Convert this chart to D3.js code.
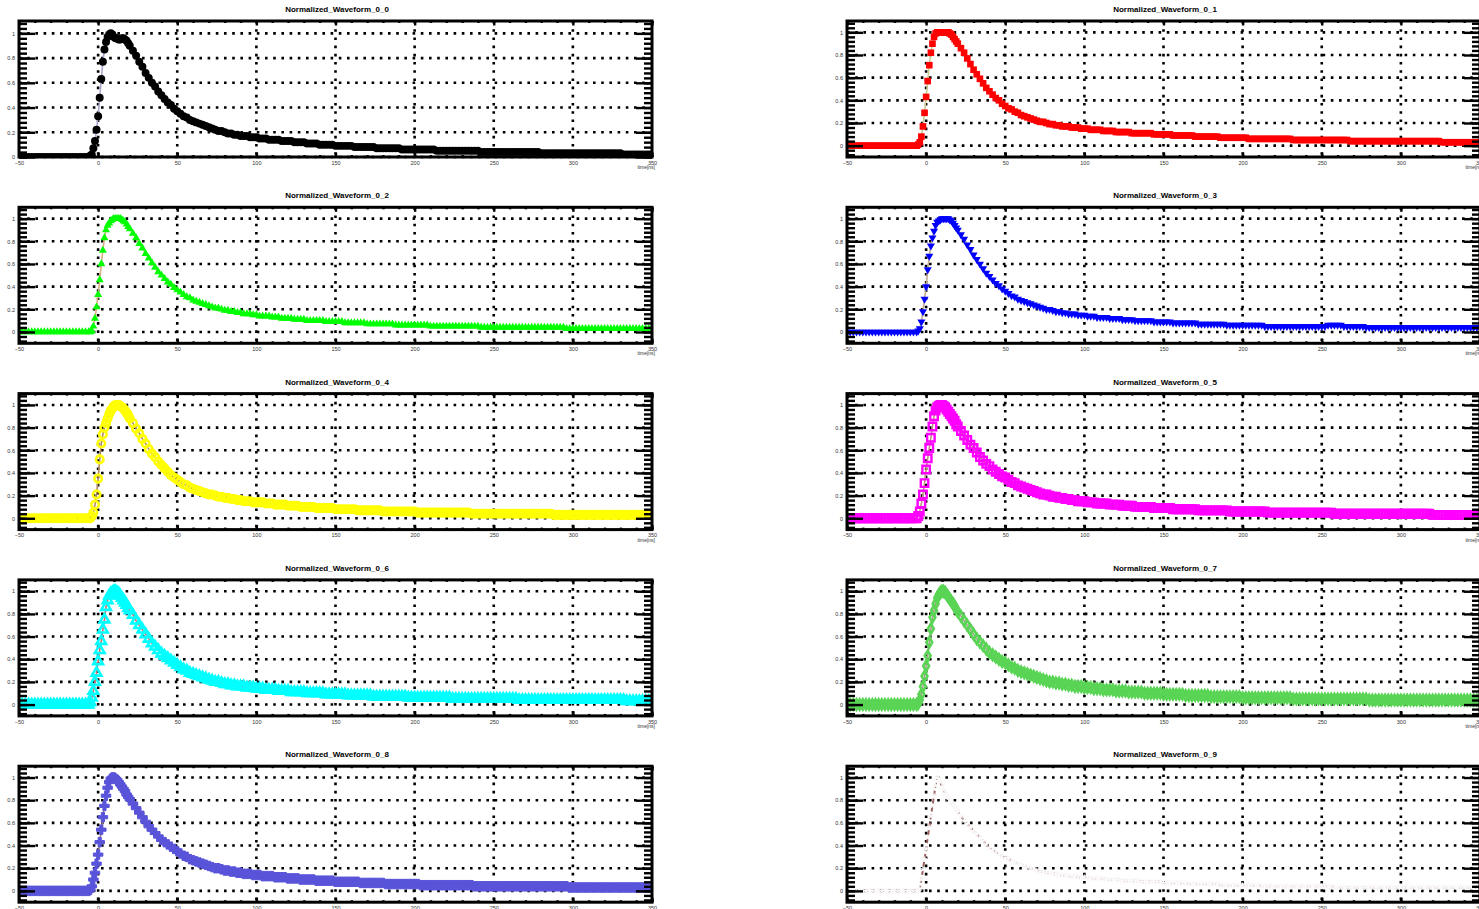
<!DOCTYPE html>
<html><head><meta charset="utf-8">
<script src="https://cdn.jsdelivr.net/npm/d3@7"></script>
<style>body{margin:0;background:#fff;overflow:hidden}svg{display:block}</style>
</head><body><svg id="c" width="1479" height="909"></svg>
<script>
// ---------------- data ----------------
const times = [
 -50,-48,-46,-44,-42,-40,-38,-36,-34,-32,-30,-28,-26,-24,-22,-20,-18,-16,-14,-12,-10,-8,-6,
 -5,-4,-3,-2,-1,0,1,2,3,4,5,6,7,8,9,10,11,12,13,14,15,16,17,18,19,20,
 22,24,26,28,30,32,34,36,38,40,
 42,44,46,48,50,52,54,56,58,60,
 62,64,66,68,70,72,74,76,78,80,
 82,84,86,88,90,92,94,96,98,100,
 102,104,106,108,110,112,114,116,118,120,
 122,124,126,128,130,132,134,136,138,140,
 142,144,146,148,150,152,154,156,158,160,
 162,164,166,168,170,172,174,176,178,180,
 182,184,186,188,190,192,194,196,198,200,
 202,204,206,208,210,212,214,216,218,220,
 222,224,226,228,230,232,234,236,238,240,
 242,244,246,248,250,252,254,256,258,260,
 262,264,266,268,270,272,274,276,278,280,
 282,284,286,288,290,292,294,296,298,300,
 302,304,306,308,310,312,314,316,318,320,
 322,324,326,328,330,332,334,336,338,340,
 342,344,346,348,350];

const wf_0_0 = [
 0,0,0,0,0,0,0,0,0,0,0,0,0,0,0,0,0,0,0,0,0,0,0,
 .01,.02,.07,.13,.22,.33,.48,.63,.77,.87,.93,.97,.99,1,.99,.97,.96,.96,.95,.95,.96,.96,.95,.94,.92,.90,
 .86,.82,.77,.73,.68,.64,.60,.57,.53,.50,
 .47,.44,.42,.39,.37,.35,.33,.32,.30,.29,
 .28,.27,.26,.25,.24,.23,.22,.21,.21,.20,
 .19,.19,.18,.18,.17,.17,.17,.16,.16,.16,
 .15,.15,.15,.14,.14,.14,.14,.13,.13,.13,
 .13,.12,.12,.12,.12,.11,.11,.11,.11,.10,
 .10,.10,.10,.10,.09,.09,.09,.09,.09,.09,
 .08,.08,.08,.08,.08,.08,.08,.07,.07,.07,
 .07,.07,.07,.07,.07,.06,.06,.06,.06,.06,
 .06,.06,.06,.06,.06,.06,.05,.05,.05,.05,
 .05,.05,.05,.05,.05,.05,.05,.05,.05,.05,
 .04,.04,.04,.04,.04,.04,.04,.04,.04,.04,
 .04,.04,.04,.04,.04,.04,.04,.04,.04,.03,
 .03,.03,.03,.03,.03,.03,.03,.03,.03,.03,
 .03,.03,.03,.03,.03,.03,.03,.03,.03,.03,
 .03,.03,.03,.03,.03,.02,.02,.02,.02,.02,
 .02,.02,.02,.02,.02];

const wf_0_1 = [
 0,0,0,0,0,0,0,0,0,0,0,0,0,0,0,0,0,0,0,0,0,0,0,
 .01,.03,.08,.17,.29,.43,.57,.71,.82,.90,.96,.99,1,1,1,1,1,1,1,1,.99,.98,.96,.94,.92,.90,
 .86,.82,.77,.72,.67,.63,.59,.55,.51,.48,
 .45,.42,.40,.37,.35,.33,.32,.30,.29,.27,
 .26,.25,.24,.23,.22,.21,.21,.20,.19,.19,
 .18,.18,.17,.17,.17,.16,.16,.16,.15,.15,
 .15,.14,.14,.14,.14,.13,.13,.13,.13,.12,
 .12,.12,.12,.12,.11,.11,.11,.11,.11,.11,
 .11,.10,.10,.10,.10,.10,.10,.09,.09,.09,
 .09,.09,.09,.09,.08,.08,.08,.08,.08,.08,
 .08,.08,.07,.07,.07,.07,.07,.07,.07,.07,
 .07,.06,.06,.06,.06,.06,.06,.06,.06,.06,
 .06,.06,.06,.06,.06,.05,.05,.05,.05,.05,
 .05,.05,.05,.05,.05,.05,.05,.05,.05,.05,
 .05,.05,.05,.04,.04,.04,.04,.04,.04,.04,
 .04,.04,.04,.04,.04,.04,.04,.04,.04,.04,
 .04,.04,.04,.04,.04,.04,.04,.04,.04,.04,
 .04,.04,.03,.03,.03,.03,.03,.03,.03,.03,
 .03,.03,.03,.03,.03];

const wf_0_2 = [
 0,0,0,0,0,0,0,0,0,0,0,0,0,0,0,0,0,0,0,0,0,0,0,
 0,.01,.05,.12,.22,.33,.46,.60,.72,.83,.90,.94,.96,.98,.99,1,1,1,1,1,.99,.98,.97,.95,.93,.91,
 .87,.83,.78,.74,.69,.65,.61,.57,.53,.50,
 .47,.44,.42,.39,.37,.35,.33,.31,.30,.28,
 .27,.26,.25,.24,.23,.22,.21,.21,.20,.19,
 .19,.18,.18,.17,.17,.16,.16,.16,.15,.15,
 .14,.14,.14,.14,.13,.13,.13,.12,.12,.12,
 .12,.11,.11,.11,.11,.10,.10,.10,.10,.10,
 .10,.09,.09,.09,.09,.09,.09,.08,.08,.08,
 .08,.08,.08,.08,.07,.07,.07,.07,.07,.07,
 .07,.07,.07,.06,.06,.06,.06,.06,.06,.06,
 .06,.06,.06,.06,.05,.05,.05,.05,.05,.05,
 .05,.05,.05,.05,.05,.05,.05,.05,.05,.05,
 .04,.04,.04,.04,.04,.04,.04,.04,.04,.04,
 .04,.04,.04,.04,.04,.04,.04,.04,.04,.04,
 .04,.04,.04,.04,.04,.04,.04,.03,.03,.03,
 .03,.03,.03,.03,.03,.03,.03,.03,.03,.03,
 .03,.03,.03,.03,.03,.03,.03,.03,.03,.03,
 .03,.03,.03,.03,.03];

const wf_0_3 = [
 0,0,0,0,0,0,0,0,0,0,0,0,0,0,0,0,0,0,0,0,0,0,0,
 .01,.03,.09,.18,.29,.40,.55,.67,.76,.83,.89,.94,.97,.98,.99,1,1,1,1,1,.99,.98,.96,.94,.92,.90,
 .86,.82,.77,.73,.68,.64,.60,.56,.52,.49,
 .46,.43,.41,.38,.36,.34,.32,.31,.29,.28,
 .27,.26,.25,.24,.23,.22,.21,.20,.20,.19,
 .18,.18,.17,.17,.16,.16,.16,.15,.15,.15,
 .14,.14,.14,.13,.13,.13,.13,.12,.12,.12,
 .12,.11,.11,.11,.11,.10,.10,.10,.10,.10,
 .10,.09,.09,.09,.09,.09,.09,.08,.08,.08,
 .08,.08,.08,.08,.08,.07,.07,.07,.07,.07,
 .07,.07,.07,.07,.06,.06,.06,.06,.06,.06,
 .06,.06,.06,.06,.06,.06,.05,.05,.05,.05,
 .05,.05,.05,.05,.05,.05,.05,.05,.05,.05,
 .05,.05,.05,.05,.05,.05,.06,.06,.06,.06,
 .06,.05,.05,.05,.05,.05,.05,.05,.04,.04,
 .04,.04,.04,.04,.04,.04,.04,.04,.04,.04,
 .04,.04,.04,.04,.04,.04,.04,.04,.04,.04,
 .04,.04,.04,.04,.04,.04,.04,.04,.04,.04,
 .04,.04,.04,.04,.04];

const wf_0_4 = [
 0,0,0,0,0,0,0,0,0,0,0,0,0,0,0,0,0,0,0,0,0,0,0,
 0,.02,.05,.12,.21,.35,.52,.66,.74,.80,.84,.88,.92,.95,.97,.99,1,1,1,.99,.98,.97,.95,.93,.91,.88,
 .84,.79,.75,.70,.66,.61,.57,.54,.50,.47,
 .44,.41,.38,.36,.34,.32,.30,.29,.27,.26,
 .25,.24,.23,.22,.21,.21,.20,.19,.19,.18,
 .18,.17,.17,.16,.16,.15,.15,.15,.14,.14,
 .14,.14,.13,.13,.13,.12,.12,.12,.12,.11,
 .11,.11,.11,.10,.10,.10,.10,.10,.09,.09,
 .09,.09,.09,.09,.08,.08,.08,.08,.08,.08,
 .08,.07,.07,.07,.07,.07,.07,.07,.07,.06,
 .06,.06,.06,.06,.06,.06,.06,.06,.06,.06,
 .05,.05,.05,.05,.05,.05,.05,.05,.05,.05,
 .05,.05,.05,.05,.05,.05,.05,.04,.04,.04,
 .04,.04,.04,.04,.04,.04,.04,.04,.04,.04,
 .04,.04,.04,.04,.04,.04,.04,.04,.04,.04,
 .04,.04,.04,.03,.03,.03,.03,.03,.03,.03,
 .03,.03,.03,.03,.03,.03,.03,.03,.03,.03,
 .03,.03,.03,.03,.03,.03,.03,.03,.03,.03,
 .03,.03,.03,.03,.03];

const wf_0_5 = [
 0,0,0,0,0,0,0,0,0,0,0,0,0,0,0,0,0,0,0,0,0,0,0,
 .02,.06,.13,.21,.31,.43,.53,.62,.71,.81,.90,.95,.98,.99,1,1,.99,.98,.96,.94,.92,.90,.88,.86,.83,.81,
 .77,.73,.69,.65,.62,.58,.54,.51,.48,.46,
 .43,.41,.39,.37,.36,.34,.32,.31,.29,.28,
 .27,.26,.25,.24,.23,.22,.21,.21,.20,.19,
 .19,.18,.18,.17,.17,.16,.16,.15,.15,.15,
 .14,.14,.14,.13,.13,.13,.13,.12,.12,.12,
 .12,.11,.11,.11,.11,.10,.10,.10,.10,.10,
 .10,.09,.09,.09,.09,.09,.09,.08,.08,.08,
 .08,.08,.08,.08,.08,.07,.07,.07,.07,.07,
 .07,.07,.07,.07,.07,.06,.06,.06,.06,.06,
 .06,.06,.06,.06,.06,.06,.06,.05,.05,.05,
 .05,.05,.05,.05,.05,.05,.05,.05,.05,.05,
 .05,.05,.05,.05,.05,.05,.05,.05,.04,.04,
 .04,.04,.04,.04,.04,.04,.04,.04,.04,.04,
 .04,.04,.04,.04,.04,.04,.04,.04,.04,.04,
 .04,.04,.04,.04,.04,.04,.04,.04,.04,.03,
 .03,.03,.03,.03,.03,.03,.03,.03,.03,.03,
 .03,.03,.03,.03,.03];

const wf_0_6 = [
 0,0,0,0,0,0,0,0,0,0,0,0,0,0,0,0,0,0,0,0,0,0,0,
 .02,.06,.12,.20,.28,.38,.48,.56,.66,.75,.86,.92,.96,.98,.99,1,1,.99,.98,.96,.94,.92,.90,.88,.85,.83,
 .79,.74,.70,.66,.62,.58,.54,.51,.48,.45,
 .43,.41,.39,.37,.35,.33,.31,.30,.28,.27,
 .26,.25,.24,.23,.22,.21,.20,.20,.19,.18,
 .18,.17,.17,.16,.16,.16,.15,.15,.15,.14,
 .14,.14,.13,.13,.13,.13,.12,.12,.12,.12,
 .11,.11,.11,.11,.11,.10,.10,.10,.10,.10,
 .10,.09,.09,.09,.09,.09,.09,.09,.08,.08,
 .08,.08,.08,.08,.08,.08,.07,.07,.07,.07,
 .07,.07,.07,.07,.07,.07,.07,.06,.06,.06,
 .06,.06,.06,.06,.06,.06,.06,.06,.06,.06,
 .06,.05,.05,.05,.05,.05,.05,.05,.05,.05,
 .05,.05,.05,.05,.05,.05,.05,.05,.05,.05,
 .05,.05,.04,.04,.04,.04,.04,.04,.04,.04,
 .04,.04,.04,.04,.04,.04,.04,.04,.04,.04,
 .04,.04,.04,.04,.04,.04,.04,.04,.04,.04,
 .04,.04,.04,.04,.04,.04,.03,.03,.03,.03,
 .03,.03,.03,.03,.03];

const wf_0_7 = [
 0,0,0,0,0,0,0,0,0,0,0,0,0,0,0,0,0,0,0,0,0,0,0,
 .01,.04,.09,.16,.25,.34,.43,.55,.67,.77,.83,.89,.94,.97,.99,1,1,.99,.97,.95,.93,.91,.89,.87,.84,.82,
 .78,.74,.70,.66,.62,.58,.55,.52,.49,.46,
 .44,.42,.40,.38,.37,.35,.33,.32,.30,.29,
 .28,.27,.26,.25,.24,.23,.22,.21,.20,.20,
 .19,.19,.18,.18,.17,.17,.16,.16,.16,.15,
 .15,.15,.14,.14,.14,.13,.13,.13,.13,.12,
 .12,.12,.12,.11,.11,.11,.11,.11,.10,.10,
 .10,.10,.10,.10,.09,.09,.09,.09,.09,.09,
 .09,.08,.08,.08,.08,.08,.08,.08,.08,.07,
 .07,.07,.07,.07,.07,.07,.07,.07,.07,.06,
 .06,.06,.06,.06,.06,.06,.06,.06,.06,.06,
 .06,.06,.06,.06,.06,.05,.05,.05,.05,.05,
 .05,.05,.05,.05,.05,.05,.05,.05,.05,.05,
 .05,.05,.05,.05,.05,.05,.05,.05,.05,.04,
 .04,.04,.04,.04,.04,.04,.04,.04,.04,.04,
 .04,.04,.04,.04,.04,.04,.04,.04,.04,.04,
 .04,.04,.04,.04,.04,.04,.04,.04,.04,.04,
 .04,.04,.04,.04,.04];

const wf_0_8 = [
 0,0,0,0,0,0,0,0,0,0,0,0,0,0,0,0,0,0,0,0,0,0,0,
 .01,.04,.10,.16,.24,.32,.43,.54,.65,.75,.84,.91,.96,.99,1,1,.99,.98,.96,.94,.92,.90,.88,.85,.83,.81,
 .77,.73,.69,.65,.61,.57,.54,.51,.48,.45,
 .43,.41,.39,.37,.35,.33,.31,.30,.28,.27,
 .26,.25,.24,.23,.22,.21,.20,.20,.19,.18,
 .18,.17,.17,.16,.16,.15,.15,.15,.14,.14,
 .14,.13,.13,.13,.13,.12,.12,.12,.12,.11,
 .11,.11,.11,.10,.10,.10,.10,.10,.09,.09,
 .09,.09,.09,.09,.08,.08,.08,.08,.08,.08,
 .08,.08,.07,.07,.07,.07,.07,.07,.07,.07,
 .06,.06,.06,.06,.06,.06,.06,.06,.06,.06,
 .06,.05,.05,.05,.05,.05,.05,.05,.05,.05,
 .05,.05,.05,.05,.05,.05,.05,.05,.04,.04,
 .04,.04,.04,.04,.04,.04,.04,.04,.04,.04,
 .04,.04,.04,.04,.04,.04,.04,.04,.04,.04,
 .04,.04,.04,.04,.04,.04,.04,.04,.03,.03,
 .03,.03,.03,.03,.03,.03,.03,.03,.03,.03,
 .03,.03,.03,.03,.03,.03,.03,.03,.03,.03,
 .03,.03,.03,.03,.03];

const wf_0_9 = [
 0,0,0,0,0,0,0,0,0,0,0,0,0,0,0,0,0,0,0,0,0,0,0,
 0,.02,.10,.19,.28,.37,.47,.56,.66,.75,.84,.93,1,.99,.96,.92,.89,.86,.84,.82,.80,.78,.76,.74,.72,.70,
 .66,.62,.59,.56,.53,.50,.47,.44,.41,.38,
 .36,.34,.32,.31,.29,.28,.26,.25,.24,.23,
 .22,.21,.20,.19,.18,.17,.17,.16,.16,.15,
 .15,.14,.14,.14,.13,.13,.13,.12,.12,.12,
 .12,.11,.11,.11,.11,.11,.10,.10,.10,.10,
 .10,.09,.09,.09,.09,.09,.09,.08,.08,.08,
 .08,.08,.08,.08,.07,.07,.07,.07,.07,.07,
 .07,.07,.06,.06,.06,.06,.06,.06,.06,.06,
 .06,.06,.05,.05,.05,.05,.05,.05,.05,.05,
 .05,.05,.05,.05,.05,.04,.04,.04,.04,.04,
 .04,.04,.04,.04,.04,.04,.04,.04,.04,.04,
 .04,.04,.04,.04,.04,.04,.04,.04,.03,.03,
 .03,.03,.03,.03,.03,.03,.03,.03,.03,.03,
 .03,.03,.03,.03,.03,.03,.03,.03,.03,.03,
 .03,.03,.03,.03,.03,.03,.03,.03,.03,.03,
 .03,.03,.03,.03,.03,.03,.03,.03,.03,.03,
 .03,.03,.03,.03,.03];

const titles = ["Normalized_Waveform_0_0","Normalized_Waveform_0_1","Normalized_Waveform_0_2",
 "Normalized_Waveform_0_3","Normalized_Waveform_0_4","Normalized_Waveform_0_5",
 "Normalized_Waveform_0_6","Normalized_Waveform_0_7","Normalized_Waveform_0_8","Normalized_Waveform_0_9"];
const waveforms = [wf_0_0,wf_0_1,wf_0_2,wf_0_3,wf_0_4,wf_0_5,wf_0_6,wf_0_7,wf_0_8,wf_0_9];
const yLow = [0,-0.1,-0.1,-0.1,-0.1,-0.1,-0.1,-0.1,-0.1,-0.1];
const yHigh = [1.1,1.1,1.1,1.1,1.1,1.1,1.1,1.1,1.1,1.1];
const xTicks = [-50,0,50,100,150,200,250,300,350];
const yTicks = [0,0.2,0.4,0.6,0.8,1];
const xTitle = "time[ns]";

// ---------------- styles ----------------
const styles = [
 {sym:d3.symbolCircle,  size:50, fill:"#000000", stroke:"none", sw:0, line:"#a8a8d0"},
 {sym:d3.symbolSquare,  size:44, fill:"#ff0000", stroke:"none", sw:0, line:"#c8c890"},
 {sym:d3.symbolTriangle,size:28, fill:"#00ff00", stroke:"none", sw:0, line:"#d8b080"},
 {sym:d3.symbolTriangle,size:28, fill:"#0000ff", stroke:"none", sw:0, line:"#c0a890", rot:180},
 {sym:d3.symbolCircle,  size:44, fill:"none", stroke:"#ffff00", sw:2.6, line:"#b08860"},
 {sym:d3.symbolSquare,  size:56, fill:"none", stroke:"#ff00ff", sw:2.4, line:"#c09080"},
 {sym:d3.symbolTriangle,size:40, fill:"none", stroke:"#00ffff", sw:2.6, line:"#d07070"},
 {sym:d3.symbolDiamond, size:30, fill:"none", stroke:"#59d454", sw:2.6, line:"#b09898"},
 {sym:d3.symbolCross,   size:50, fill:"#5954d9", stroke:"#5954d9", sw:1, line:"#a08080"},
 {sym:d3.symbolStar,    size:10, fill:"#fefefe", stroke:"#f5efef", sw:0.4, line:"#9c6060", dash:"5,3", lw:2}
];

const svg = d3.select("#c");
const colX = [19, 847];
const frameW = 633, frameH = 136;
const rowTop = r => 21 + r*186.3;
const FONT = "'Liberation Sans', Arial, Helvetica, sans-serif";

waveforms.forEach((vals, i) => {
  const col = i % 2, row = Math.floor(i/2);
  const x0 = colX[col], y0 = rowTop(row);
  const st = styles[i];
  const g = svg.append("g").attr("transform", `translate(${x0},${y0})`);
  const x = d3.scaleLinear().domain([-50, 350]).range([0, frameW]);
  const y = d3.scaleLinear().domain([yLow[i], yHigh[i]]).range([frameH, 0]);

  svg.append("text").attr("x", x0 + frameW/2 + 1.5).attr("y", y0 - 9)
    .attr("text-anchor","middle").attr("font-family",FONT).attr("font-weight","bold")
    .attr("font-size",8).attr("fill","#000").text(titles[i]);

  const grid = g.append("g").attr("stroke","#000").attr("stroke-width",2.6).attr("stroke-dasharray","2.6,5.6");
  xTicks.slice(1,-1).forEach(t => grid.append("line").attr("x1",x(t)).attr("x2",x(t)).attr("y1",0).attr("y2",frameH));
  yTicks.forEach(t => grid.append("line").attr("x1",0).attr("x2",frameW).attr("y1",y(t)).attr("y2",y(t)));

  const cid = "clip"+i;
  g.append("clipPath").attr("id",cid).append("rect").attr("width",frameW).attr("height",frameH);
  const plot = g.append("g").attr("clip-path",`url(#${cid})`);
  const pts = times.map((t,k) => [t, vals[k]]).filter(d => d[1] !== undefined);

  plot.append("path").datum(pts)
    .attr("d", d3.line().x(d=>x(d[0])).y(d=>y(d[1])))
    .attr("fill","none").attr("stroke",st.line).attr("stroke-width",st.lw || 1.6)
    .attr("stroke-dasharray", st.dash || null);

  const sym = d3.symbol().type(st.sym).size(st.size);
  plot.selectAll("path.m").data(pts).join("path").attr("class","m")
    .attr("d", sym)
    .attr("transform", d => `translate(${x(d[0])},${y(d[1])})` + (st.rot ? ` rotate(${st.rot})` : ""))
    .attr("fill", st.fill).attr("stroke", st.stroke).attr("stroke-width", st.sw);

  const minorX = d3.range(-50, 351, 10);
  const minorY = d3.range(-0.08, 1.1, 0.04).filter(v => v >= yLow[i]-1e-9 && v <= yHigh[i]+1e-9);
  const styleAxis = sel => {
    sel.select(".domain").remove();
    sel.selectAll(".tick line").attr("stroke","#000").attr("stroke-width",2.4);
    sel.selectAll(".tick text").attr("font-family",FONT).attr("font-size",5.5).attr("fill","#333");
  };
  const fmtX = d3.format("d");
  const fmtY = v => (Math.abs(v) < 1e-9 ? "0" : String(+v.toFixed(1)));

  g.append("g").attr("transform",`translate(0,${frameH})`)
    .call(d3.axisBottom(x).tickValues(minorX).tickSize(-2).tickFormat("")).call(styleAxis);
  g.append("g").attr("transform",`translate(0,${frameH})`)
    .call(d3.axisBottom(x).tickValues(xTicks).tickSize(-4.5).tickPadding(4).tickFormat(fmtX)).call(styleAxis);
  g.append("g").call(d3.axisTop(x).tickValues(minorX).tickSize(-2).tickFormat("")).call(styleAxis);
  g.append("g").call(d3.axisTop(x).tickValues(xTicks).tickSize(-4.5).tickFormat("")).call(styleAxis);

  g.append("g").call(d3.axisLeft(y).tickValues(minorY).tickSize(-8).tickFormat("")).call(styleAxis);
  g.append("g").call(d3.axisLeft(y).tickValues(yTicks).tickSize(-16).tickPadding(4).tickFormat(fmtY)).call(styleAxis);
  g.append("g").attr("transform",`translate(${frameW},0)`)
    .call(d3.axisRight(y).tickValues(minorY).tickSize(-8).tickFormat("")).call(styleAxis);
  g.append("g").attr("transform",`translate(${frameW},0)`)
    .call(d3.axisRight(y).tickValues(yTicks).tickSize(-16).tickFormat("")).call(styleAxis);

  g.append("rect").attr("width",frameW).attr("height",frameH)
    .attr("fill","none").attr("stroke","#000").attr("stroke-width",3);

  g.append("text").attr("x", frameW + 3).attr("y", frameH + 12)
    .attr("text-anchor","end").attr("font-family",FONT).attr("font-size",5)
    .attr("fill","#333").text(xTitle);
});
</script>
</body></html>
